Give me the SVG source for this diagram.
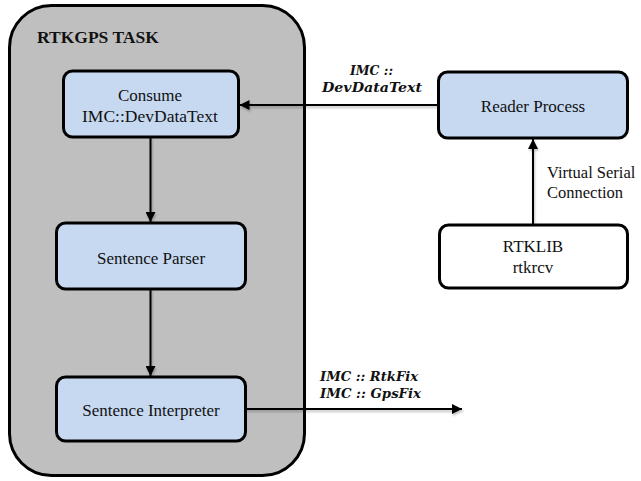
<svg xmlns="http://www.w3.org/2000/svg" width="641" height="481" viewBox="0 0 641 481">
  <style>
    .box { fill: #c6d9f1; stroke: #000; stroke-width: 3; }
    .plain { fill: #fff; stroke: #000; stroke-width: 3; }
    .task { fill: #bfbfbf; stroke: #000; stroke-width: 3; }
    .lbl { font-family: "Liberation Serif", "Times New Roman", serif; font-size: 17px; fill: #111; text-anchor: middle; }
    .title { font-family: "Liberation Serif", "Times New Roman", serif; font-size: 17.5px; font-weight: bold; fill: #111; }
    .msg { font-family: "DejaVu Serif", "Liberation Serif", serif; font-size: 13.5px; font-weight: bold; font-style: italic; fill: #111; }
    .side { font-family: "Liberation Serif", "Times New Roman", serif; font-size: 16.5px; fill: #111; }
    .conn { stroke: #000; stroke-width: 2; fill: none; marker-end: url(#arrow); }
  </style>
  <defs>
    <marker id="arrow" viewBox="0 0 10 10" refX="10" refY="5" markerWidth="5.5" markerHeight="5" markerUnits="strokeWidth" orient="auto">
      <path d="M0,0 L10,5 L0,10 z" fill="#000"/>
    </marker>
    <filter id="soft" x="-10%" y="-50%" width="120%" height="200%">
      <feDropShadow dx="1" dy="2" stdDeviation="1.2" flood-color="#000" flood-opacity="0.25"/>
    </filter>
  </defs>

  <rect width="641" height="481" fill="#fff"/>

  <g id="rtkgps-task">
    <rect class="task" x="9.5" y="5.5" width="295" height="470" rx="42" ry="42"/>
    <text class="title" x="37" y="43">RTKGPS TASK</text>
  </g>

  <g id="connectors">
    <g filter="url(#soft)">
      <line class="conn" x1="438" y1="105" x2="239.5" y2="105"/>
      <line class="conn" x1="150.5" y1="137" x2="150.5" y2="222"/>
      <line class="conn" x1="150.5" y1="289" x2="150.5" y2="376"/>
      <line class="conn" x1="245" y1="409" x2="462" y2="409"/>
      <line class="conn" x1="533" y1="224" x2="533" y2="139"/>
    </g>
    <text class="msg" x="350" y="75" textLength="43" lengthAdjust="spacingAndGlyphs">IMC ::</text>
    <text class="msg" x="322" y="92" textLength="100" lengthAdjust="spacingAndGlyphs">DevDataText</text>
    <text class="msg" x="320" y="381" textLength="98" lengthAdjust="spacingAndGlyphs">IMC :: RtkFix</text>
    <text class="msg" x="320" y="398" textLength="101" lengthAdjust="spacingAndGlyphs">IMC :: GpsFix</text>
    <text class="side" x="547" y="178">Virtual Serial</text>
    <text class="side" x="547" y="198">Connection</text>
  </g>

  <g id="consume">
    <rect class="box" x="63.5" y="71" width="175" height="66" rx="9" ry="9"/>
    <text class="lbl" x="150" y="101">Consume</text>
    <text class="lbl" x="150" y="122" textLength="136" lengthAdjust="spacingAndGlyphs">IMC::DevDataText</text>
  </g>

  <g id="sentence-parser">
    <rect class="box" x="56.5" y="223" width="189" height="66" rx="9" ry="9"/>
    <text class="lbl" x="151" y="264">Sentence Parser</text>
  </g>

  <g id="sentence-interpreter">
    <rect class="box" x="56.5" y="377" width="189" height="64" rx="9" ry="9"/>
    <text class="lbl" x="151" y="416">Sentence Interpreter</text>
  </g>

  <g id="reader-process">
    <rect class="box" x="438.5" y="72" width="189" height="66" rx="9" ry="9"/>
    <text class="lbl" x="533" y="112">Reader Process</text>
  </g>

  <g id="rtklib">
    <rect class="plain" x="439.5" y="225" width="188" height="63" rx="9" ry="9"/>
    <text class="lbl" x="533" y="252">RTKLIB</text>
    <text class="lbl" x="533" y="273">rtkrcv</text>
  </g>
</svg>
